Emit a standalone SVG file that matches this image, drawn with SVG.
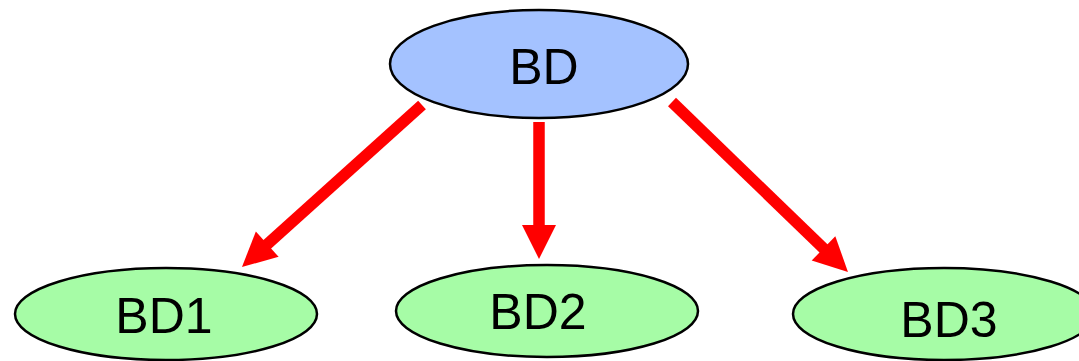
<svg xmlns="http://www.w3.org/2000/svg" width="1079" height="361" viewBox="0 0 1079 361">
  <style>
    .node { stroke: #000; stroke-width: 2.5; }
    .root { fill: #a4c2ff; }
    .leaf { fill: #a6fca6; }
    .label { font-family: "Liberation Sans", Arial, sans-serif; font-size: 50px; fill: #000; text-anchor: middle; }
    .edge { stroke: #ff0000; stroke-width: 11.5; fill: none; marker-end: url(#head); }
  </style>
  <defs>
    <!-- arrowhead in user units so it stays the same size regardless of shaft width -->
    <marker id="head" markerUnits="userSpaceOnUse" markerWidth="34" markerHeight="34" refX="10" refY="17" orient="auto" overflow="visible">
      <path d="M0,0 L34,17 L0,34 Z" fill="#ff0000"/>
    </marker>
  </defs>
  <rect width="1079" height="361" fill="#ffffff"/>

  <g id="connectors">
    <line class="edge" x1="422" y1="105" x2="259.8" y2="250.9"/>
    <line class="edge" x1="539" y1="122" x2="539" y2="235"/>
    <line class="edge" x1="672" y1="102" x2="830.7" y2="255.3"/>
  </g>

  <g id="BD">
    <ellipse class="node root" cx="539" cy="64" rx="149" ry="54"/>
    <text class="label" x="544" y="84">BD</text>
  </g>
  <g id="BD1">
    <ellipse class="node leaf" cx="166" cy="314" rx="151" ry="46"/>
    <text class="label" x="164" y="333">BD1</text>
  </g>
  <g id="BD2">
    <ellipse class="node leaf" cx="547" cy="311" rx="151" ry="46"/>
    <text class="label" x="538" y="329">BD2</text>
  </g>
  <g id="BD3">
    <ellipse class="node leaf" cx="944" cy="314" rx="151" ry="46"/>
    <text class="label" x="949" y="337">BD3</text>
  </g>
</svg>
